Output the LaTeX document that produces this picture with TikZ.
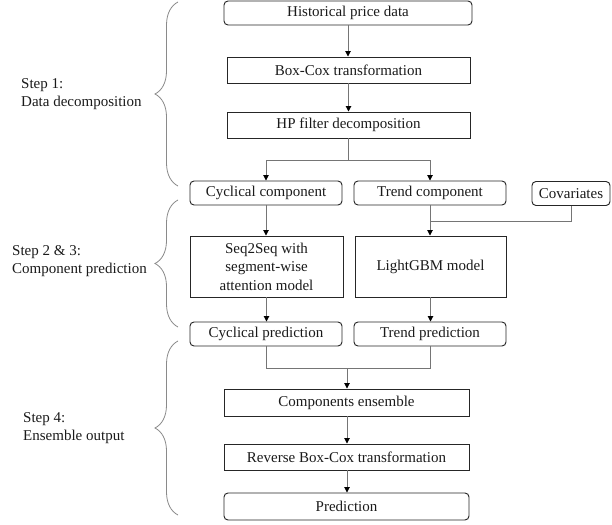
\documentclass[tikz,border=0pt]{standalone}
\usepackage{fontspec}
\setmainfont{Liberation Serif}
\usetikzlibrary{arrows.meta,decorations.pathreplacing}
\definecolor{linegrey}{HTML}{757575}
\definecolor{boxline}{HTML}{262626}
\definecolor{txt}{HTML}{1A1A1A}
\definecolor{bracegrey}{HTML}{8A8A8A}
\tikzset{
  base/.style={draw=boxline, line width=0.95pt, inner sep=0pt, text=txt,
    font=\fontsize{15}{18}\selectfont, align=center},
  rbox/.style={base, rounded corners=4pt},
  sbox/.style={base},
  conn/.style={draw=linegrey, line width=0.9pt},
  arr/.style={conn, -{Triangle[length=5.5pt,width=5.5pt,color=black]}},
  mybrace/.style={draw=bracegrey, line width=0.8pt,
    decorate, decoration={brace, amplitude=23pt, aspect=0.5}},
  steplabel/.style={anchor=west, align=left, inner sep=0pt, text=txt,
    font=\fontsize{15}{17.5}\selectfont}
}
\begin{document}
\begin{tikzpicture}[x=1pt, y=-1pt]
\path[use as bounding box] (0,0) rectangle (612,524);

% nodes
\node[rbox, minimum width=248pt, minimum height=24pt] (hist) at (348,13) {Historical price data};
\node[sbox, minimum width=243pt, minimum height=26pt] (boxcox) at (348.5,70) {Box-Cox transformation};
\node[sbox, minimum width=243pt, minimum height=26pt] (hp) at (348.5,125) {HP filter decomposition};
\node[rbox, minimum width=152pt, minimum height=24pt] (cyc) at (266,193) {Cyclical component};
\node[rbox, minimum width=152pt, minimum height=24pt] (trend) at (430,193) {Trend component};
\node[rbox, minimum width=78pt, minimum height=24pt] (cov) at (571,193.5) {Covariates};
\node[sbox, minimum width=153pt, minimum height=61pt, font=\fontsize{15}{18.5}\selectfont] (seq) at (266.5,266.5) {Seq2Seq with\\segment-wise\\attention model};
\node[sbox, minimum width=151pt, minimum height=61pt] (lgbm) at (430.5,266.5) {LightGBM model};
\node[rbox, minimum width=152pt, minimum height=24pt] (cycp) at (266,334) {Cyclical prediction};
\node[rbox, minimum width=152pt, minimum height=24pt] (trendp) at (430,334) {Trend prediction};
\node[sbox, minimum width=245pt, minimum height=27pt] (ens) at (346.5,402.5) {Components ensemble};
\node[sbox, minimum width=245pt, minimum height=26pt] (rev) at (346.5,457) {Reverse Box-Cox transformation};
\node[rbox, minimum width=245pt, minimum height=27pt] (pred) at (346.5,506.5) {Prediction};

% junction points
\coordinate (split) at (348.5,160);
\coordinate (covj) at (430,221);
\coordinate (merge) at (347,368);

% connectors
\draw[arr] (hist.south) -- (hist.south |- boxcox.north);
\draw[arr] (boxcox.south) -- (hp.north);
\draw[conn] (hp.south) -- (split);
\draw[arr] (split) -| (cyc.north);
\draw[arr] (split) -| (trend.north);
\draw[arr] (cyc.south) -- (cyc.south |- seq.north);
\draw[arr] (trend.south) -- (trend.south |- lgbm.north);
\draw[conn] (cov.south) |- (covj);
\draw[arr] (seq.south) -- (seq.south |- cycp.north);
\draw[arr] (lgbm.south) -- (lgbm.south |- trendp.north);
\draw[conn] (cycp.south) |- (merge);
\draw[conn] (trendp.south) |- (merge);
\draw[arr] (merge) -- (merge |- ens.north);
\draw[arr] (ens.south -| merge) -- (merge |- rev.north);
\draw[arr] (rev.south -| merge) -- (merge |- pred.north);

% braces
\coordinate (b1s) at (178,186);
\coordinate (b1e) at (178,2);
\coordinate (b2s) at (178,327);
\coordinate (b2e) at (178,200);
\coordinate (b3s) at (178,515);
\coordinate (b3e) at (178,341);
\draw[mybrace] (b1s) -- (b1e);
\draw[mybrace] (b2s) -- (b2e);
\draw[mybrace] (b3s) -- (b3e);

% labels
\node[steplabel] (l1) at (21,94) {Step 1:\\Data decomposition};
\node[steplabel] (l2) at (12,261) {Step 2 \& 3:\\Component prediction};
\node[steplabel] (l3) at (23,428) {Step 4:\\Ensemble output};
\end{tikzpicture}
\end{document}
